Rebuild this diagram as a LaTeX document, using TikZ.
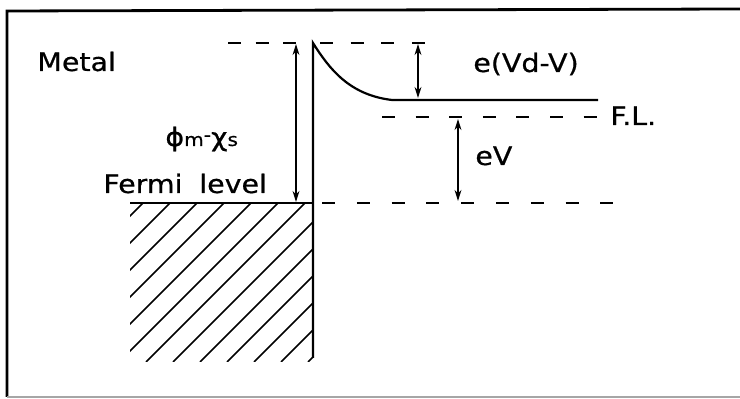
\documentclass[tikz,border=0pt]{standalone}
\usepackage{fontspec}
\setmainfont{DejaVu Sans}
\newfontfamily\lblfont{DejaVu Sans}[FakeBold=0.6]
\usepackage{graphicx}
\usetikzlibrary{arrows.meta}
\newcommand{\widetext}[1]{\scalebox{1.12}[1]{#1}}
\newcommand{\smalltext}[1]{{\fontsize{9}{10}\selectfont #1}}

\begin{document}
\begin{tikzpicture}[x=0.5pt,y=-0.5pt,
  levelline/.style={line width=1.1pt},
  dashlevel/.style={line width=1.1pt,dash pattern=on 6.5pt off #1},
  gaparrow/.style={line width=0.9pt,{Stealth[length=5.5pt,width=3.4pt]}-{Stealth[length=5.5pt,width=3.4pt]}},
  lbl/.style={inner sep=0pt,font=\lblfont\fontsize{12.7}{14}\selectfont}]
  \useasboundingbox (0,0) rectangle (740,399);
  % frame
  \draw[line width=1.4pt] (740,9) -- (7,11) -- (7,397);
  \draw[line width=1.2pt,gray!70] (7,397) -- (740,397);
  % levels
  \coordinate (btop) at (313,43);
  \coordinate (bbot) at (313,358);
  \coordinate (mfl) at (130,203);
  \coordinate (bend) at (392,100);
  \coordinate (cbend) at (598,100);
  \draw[levelline] (bbot) -- (btop) .. controls (330,70) and (350,95) .. (bend) -- (cbend);
  \draw[levelline] (mfl) -- (313,203);
  \draw[dashlevel=7.25pt] (228,43) -- (296,43);
  \draw[dashlevel=8.8pt] (320,43) -- (425,43);
  \draw[dashlevel=10.3pt] (382,117) -- (597,117);
  \draw[dashlevel=10.9pt] (322,203) -- (615,203);
  % hatching of the metal
  \begin{scope}
    \clip (130,203) rectangle (313,362);
    \foreach \c in {346,373,...,680}
      \draw[line width=0.8pt] (\c-362,362) -- (\c-203,203);
  \end{scope}
  % gaps
  \coordinate (phitop) at (296,44);
  \coordinate (phibot) at (296,202);
  \coordinate (vdtop) at (418,44);
  \coordinate (vdbot) at (418,98);
  \coordinate (evtop) at (458,119);
  \coordinate (evbot) at (458,201);
  \draw[gaparrow] (phitop) -- (phibot);
  \draw[gaparrow] (vdtop) -- (vdbot);
  \draw[gaparrow] (evtop) -- (evbot);
  % labels
  \node[lbl,anchor=base west] (metal) at (37,71) {\widetext{Metal}};
  \node[lbl,anchor=base west] (phichi) at (165,146) {\widetext{ϕ\smalltext{m}\raisebox{0.35ex}{\smalltext{-}}χ\smalltext{s}}};
  \node[lbl,anchor=base west] (fermi) at (103,193) {\widetext{Fermi\hspace{7.5pt}level}};
  \node[lbl,anchor=base west] (vdv) at (473,72) {\widetext{e(Vd-V)}};
  \node[lbl,anchor=base west] (flab) at (610,125) {\widetext{F.L.}};
  \node[lbl,anchor=base west] (ev) at (475,165) {\widetext{eV}};
\end{tikzpicture}
\end{document}
